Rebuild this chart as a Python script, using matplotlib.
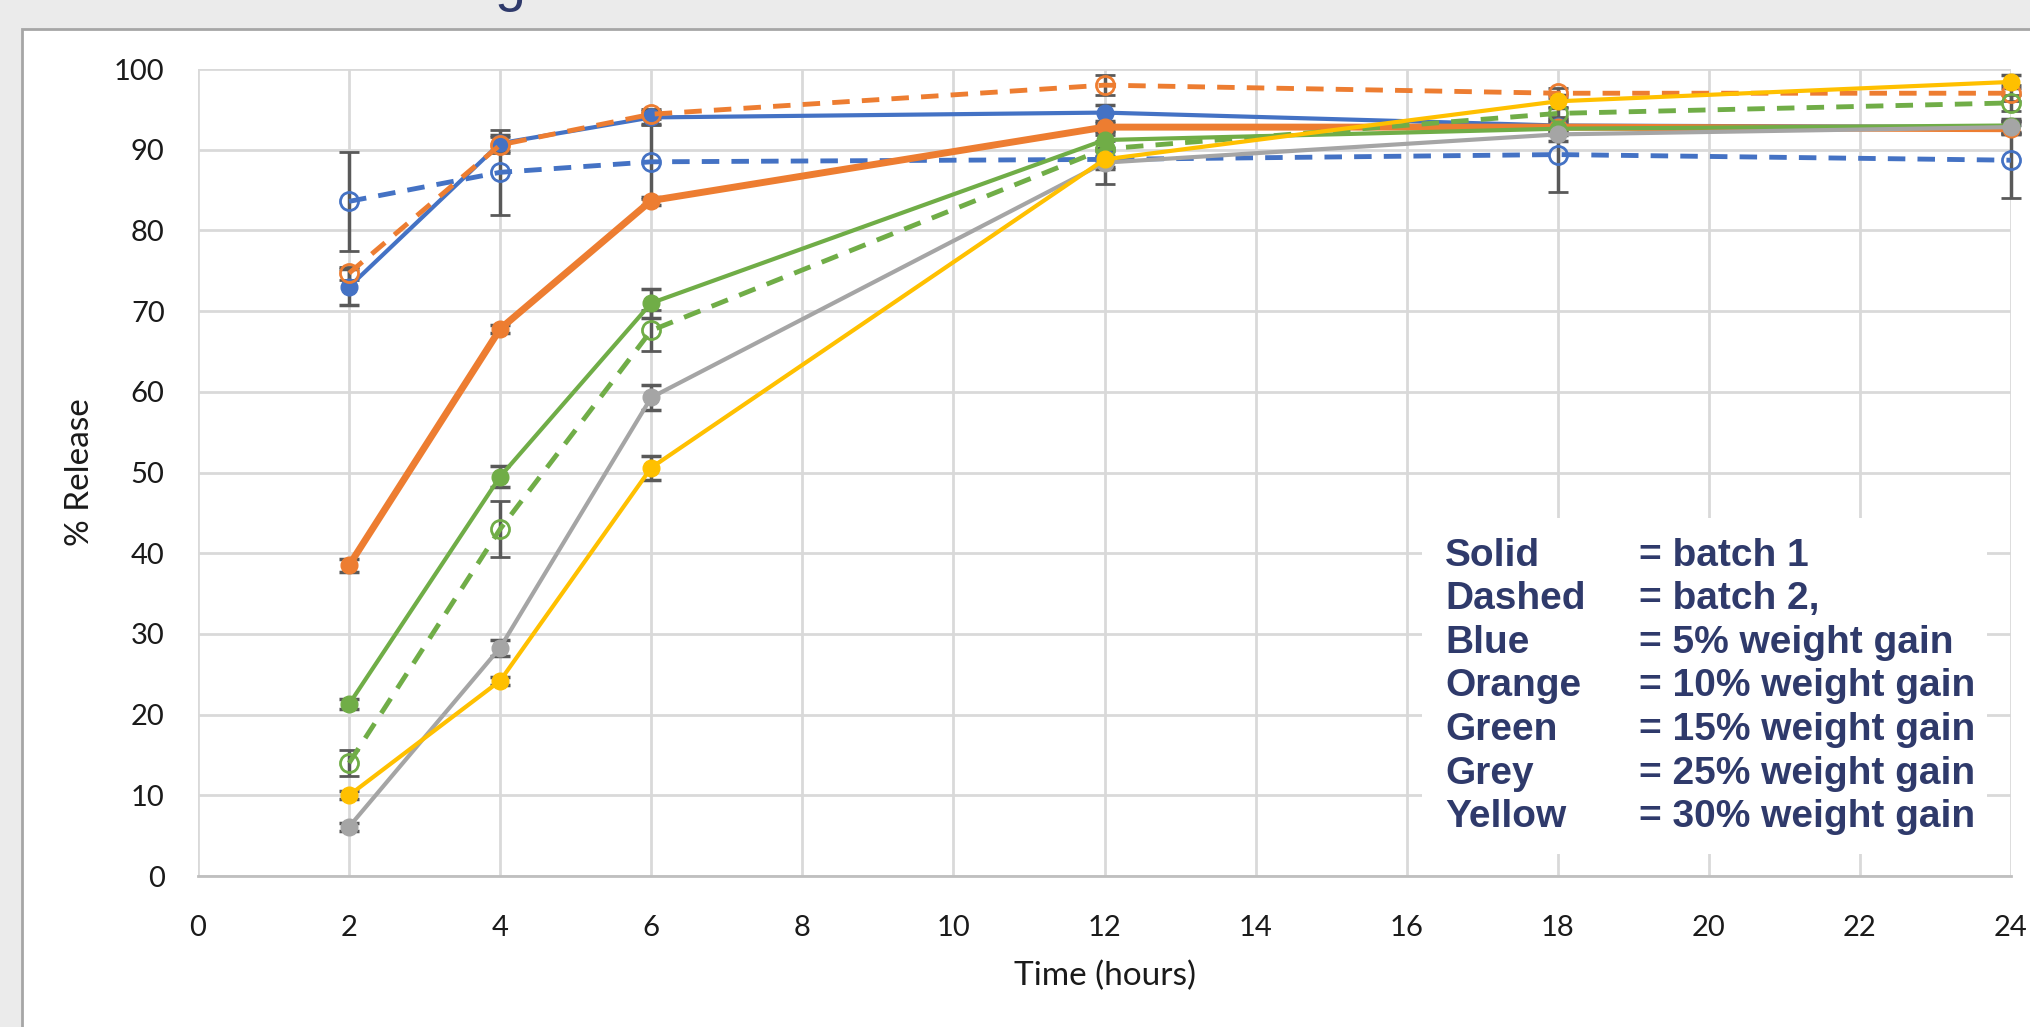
import matplotlib
matplotlib.use('Agg')
import matplotlib.pyplot as plt
from matplotlib.patches import Rectangle

# vrijeme uzorkovanja (h)
t = [2, 4, 6, 12, 18, 24]

plavo_1 = [73.0, 90.8, 94.0, 94.6, 93.0, 92.8]
plavo_1_sd = [2.2, 1.0, 0.8, 1.0, 0.8, 0.8]
plavo_2 = [83.6, 87.2, 88.5, 88.8, 89.4, 88.7]
plavo_2_sd = [6.1, 5.3, 4.6, 3.0, 4.6, 4.7]
narandzasto_1 = [38.5, 67.8, 83.7, 92.8, 92.8, 92.6]
narandzasto_1_sd = [0.8, 0.5, 0.5, 0.5, 0.5, 0.5]
narandzasto_2 = [74.7, 90.6, 94.4, 98.0, 97.0, 97.0]
narandzasto_2_sd = [0.8, 1.0, 0.6, 1.2, 0.6, 1.0]
zeleno_1 = [21.3, 49.5, 71.0, 91.2, 92.6, 93.0]
zeleno_1_sd = [0.6, 1.3, 1.8, 1.0, 0.8, 0.8]
zeleno_2 = [14.0, 43.0, 67.6, 90.1, 94.5, 95.8]
zeleno_2_sd = [1.6, 3.5, 2.6, 1.0, 0.8, 1.0]
sivo_1 = [6.1, 28.3, 59.3, 88.4, 91.9, 92.8]
sivo_1_sd = [0.5, 1.0, 1.5, 0.8, 0.8, 0.8]
zuto_1 = [10.0, 24.2, 50.6, 88.8, 96.0, 98.4]
zuto_1_sd = [0.5, 0.5, 1.5, 1.0, 0.8, 0.8]

x_tikovi = list(range(0, 25, 2))
y_tikovi = list(range(0, 101, 10))

legenda_levo = ['Solid', 'Dashed', 'Blue', 'Orange', 'Green', 'Grey', 'Yellow']
legenda_desno = ['= batch 1', '= batch 2,', '= 5% weight gain', '= 10% weight gain',
                 '= 15% weight gain', '= 25% weight gain', '= 30% weight gain']

PLAVA = '#4472C4'
NARANDZASTA = '#ED7D31'
ZELENA = '#70AD47'
SIVA = '#A5A5A5'
ZUTA = '#FFC000'
TEGET = '#2F3A6B'

plt.rcParams['font.family'] = ['Lato', 'DejaVu Sans']

fig = plt.figure(figsize=(20.30, 10.27), dpi=100, facecolor='#ebebeb')
# bijela ploca kao u excelu
fig.patches.append(Rectangle((22 / 2030, -0.01), 1, (1027 - 29) / 1027 + 0.01, transform=fig.transFigure,
                             facecolor='white', edgecolor='#a6a6a6', linewidth=2, zorder=-10))
fig.text(510 / 2030, 1.0, 'g', fontsize=40, color=TEGET, ha='center', va='baseline',
         family='Liberation Sans')

ax = fig.add_axes([198 / 2030, 0.147, (2011 - 198) / 2030, 0.7858])
ax.set_facecolor('none')


def serija(y, sd, boja, puna, lw=3.0):
    if puna:
        ax.errorbar(t, y, yerr=sd, color=boja, lw=lw, marker='o', ms=12, mfc=boja, mec=boja,
                    ecolor='#595959', elinewidth=2.5, capsize=7, capthick=2.5, clip_on=False)
    else:
        ax.errorbar(t, y, yerr=sd, color=boja, lw=lw, ls=(0, (3.6, 2.5)), marker='o', ms=13,
                    mfc='none', mec=boja, mew=2, ecolor='#595959', elinewidth=2.5, capsize=7,
                    capthick=2.5, clip_on=False)


serija(plavo_1, plavo_1_sd, PLAVA, True)
serija(plavo_2, plavo_2_sd, PLAVA, False, lw=3.5)
serija(narandzasto_1, narandzasto_1_sd, NARANDZASTA, True, lw=5)
serija(narandzasto_2, narandzasto_2_sd, NARANDZASTA, False, lw=3.5)
serija(zeleno_1, zeleno_1_sd, ZELENA, True)
serija(zeleno_2, zeleno_2_sd, ZELENA, False, lw=3.5)
serija(sivo_1, sivo_1_sd, SIVA, True)
serija(zuto_1, zuto_1_sd, ZUTA, True)

ax.set_xlim(0, 24)
ax.set_ylim(0, 100)
ax.set_xticks(x_tikovi)
ax.set_yticks(y_tikovi)
ax.set_axisbelow(True)
ax.grid(True, color='#d9d9d9', lw=2)
for s in ['top', 'right', 'left']:
    ax.spines[s].set_visible(False)
ax.spines['bottom'].set_color('#bfbfbf')
ax.spines['bottom'].set_linewidth(2)
ax.tick_params(axis='both', length=0, labelsize=21, colors='#1a1a1a')
ax.tick_params(axis='x', pad=28)
ax.tick_params(axis='y', pad=24)
ax.set_xlabel('Time (hours)', fontsize=24, labelpad=14, color='#1a1a1a')
ax.set_ylabel('% Release', fontsize=24, labelpad=14, color='#1a1a1a')

# tekst "legenda" u bijelom okviru
ax.add_patch(Rectangle((0.675, 0.027), 0.312, 0.417, transform=ax.transAxes,
                       facecolor='white', edgecolor='none', zorder=1))
ax.text(0.688, 0.235, '\n'.join(legenda_levo), transform=ax.transAxes, fontsize=28,
        family='Liberation Sans', weight='bold', color=TEGET, va='center', ha='left',
        linespacing=1.27, zorder=2)
ax.text(0.795, 0.235, '\n'.join(legenda_desno), transform=ax.transAxes, fontsize=28,
        family='Liberation Sans', weight='bold', color=TEGET, va='center', ha='left',
        linespacing=1.27, zorder=2)

fig.savefig('out.png', dpi=100, facecolor=fig.get_facecolor())
